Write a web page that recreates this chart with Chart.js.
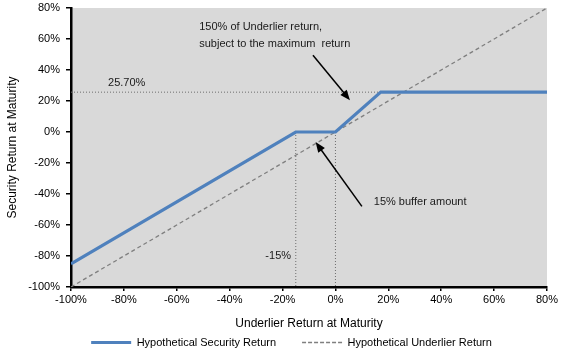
<!DOCTYPE html>
<html>
<head>
<meta charset="utf-8">
<script src="https://cdn.jsdelivr.net/npm/chart.js@4"></script>
<style>
  html, body { margin: 0; padding: 0; background: #fff; }
  #wrap { width: 565px; height: 354px; }
</style>
</head>
<body>
<div id="wrap"><canvas id="chart" width="565" height="354"></canvas></div>
<script>
// underlier return (x) and security return (y), in percent
const securityX = [-100, -15, 0, 17.13, 80];
const securityY = [-85, 0, 0, 25.7, 25.7];
const underlierX = [-100, 80];
const underlierY = [-100, 80];

const seriesNames = ["Hypothetical Security Return", "Hypothetical Underlier Return"];
const maxReturn = 25.7;
const bufferLevel = -15;
const xTicks = [-100, -80, -60, -40, -20, 0, 20, 40, 60, 80];
const yTicks = [-100, -80, -60, -40, -20, 0, 20, 40, 60, 80];

const FONT = "'Liberation Sans', Arial, sans-serif";

function toPoints(xs, ys) {
    return xs.map((x, i) => ({ x: x, y: ys[i] }));
}

function arrow(ctx, x1, y1, x2, y2) {
    const ang = Math.atan2(y2 - y1, x2 - x1);
    const len = 11, spread = 0.38;
    ctx.beginPath();
    ctx.moveTo(x1, y1);
    ctx.lineTo(x2 - Math.cos(ang) * 6, y2 - Math.sin(ang) * 6);
    ctx.stroke();
    ctx.beginPath();
    ctx.moveTo(x2, y2);
    ctx.lineTo(x2 - len * Math.cos(ang - spread), y2 - len * Math.sin(ang - spread));
    ctx.lineTo(x2 - len * Math.cos(ang + spread), y2 - len * Math.sin(ang + spread));
    ctx.closePath();
    ctx.fill();
}

// gray plot background + guide lines + notes
const notesPlugin = {
    id: "notes",
    afterLayout(chart) {
        // the legend sits a bit right of the canvas centre
        chart.legend.left += 18;
        chart.legend.right += 18;
    },
    beforeDraw(chart) {
        const { ctx, chartArea: a } = chart;
        ctx.save();
        ctx.fillStyle = "#d9d9d9";
        ctx.fillRect(a.left, a.top, a.right - a.left, a.bottom - a.top);
        ctx.restore();
    },
    beforeDatasetsDraw(chart) {
        const { ctx, scales: { x, y } } = chart;
        ctx.save();
        ctx.strokeStyle = "#6e6e6e";
        ctx.lineWidth = 1;
        ctx.setLineDash([1, 2]);
        // max return level
        ctx.beginPath();
        ctx.moveTo(x.left, y.getPixelForValue(maxReturn));
        ctx.lineTo(x.getPixelForValue(maxReturn / 1.5), y.getPixelForValue(maxReturn));
        ctx.stroke();
        // buffer verticals
        [bufferLevel, 0].forEach(v => {
            ctx.beginPath();
            ctx.moveTo(x.getPixelForValue(v), y.getPixelForValue(0));
            ctx.lineTo(x.getPixelForValue(v), y.bottom);
            ctx.stroke();
        });
        ctx.restore();
    },
    afterDatasetsDraw(chart) {
        const { ctx, scales: { x, y } } = chart;
        ctx.save();
        ctx.fillStyle = "#1a1a1a";
        ctx.font = "11px " + FONT;
        ctx.textBaseline = "middle";
        ctx.fillText(maxReturn.toFixed(2) + "%", x.getPixelForValue(-86), y.getPixelForValue(maxReturn) - 9);
        ctx.fillText(bufferLevel + "%", x.getPixelForValue(-26.5), y.getPixelForValue(-80));
        ctx.fillText("150% of Underlier return,", x.getPixelForValue(-51.5), y.getPixelForValue(67.5));
        ctx.fillText("subject to the maximum  return", x.getPixelForValue(-51.5), y.getPixelForValue(56.5));
        ctx.fillText("15% buffer amount", x.getPixelForValue(14.5), y.getPixelForValue(-45));
        ctx.strokeStyle = "#000";
        ctx.fillStyle = "#000";
        ctx.lineWidth = 1.5;
        arrow(ctx, x.getPixelForValue(-8.5), y.getPixelForValue(49.5), x.getPixelForValue(5.5), y.getPixelForValue(20.5));
        arrow(ctx, x.getPixelForValue(10), y.getPixelForValue(-48), x.getPixelForValue(-7.5), y.getPixelForValue(-6.5));
        ctx.restore();
    }
};

const ctx = document.getElementById("chart").getContext("2d");
const chart = new Chart(ctx, {
    type: "line",
    data: {
        datasets: [
            {
                label: seriesNames[0],
                data: toPoints(securityX, securityY),
                borderColor: "#4f81bd",
                backgroundColor: "#4f81bd",
                borderWidth: 3.2,
                pointRadius: 0,
                tension: 0,
                order: 1
            },
            {
                label: seriesNames[1],
                data: toPoints(underlierX, underlierY),
                borderColor: "#7f7f7f",
                backgroundColor: "#7f7f7f",
                borderWidth: 1.3,
                borderDash: [4, 3],
                pointRadius: 0,
                order: 2
            }
        ]
    },
    options: {
        responsive: false,
        animation: false,
        layout: { padding: { top: 8, right: 18, left: 0, bottom: -4 } },
        scales: {
            x: {
                type: "linear",
                min: -100,
                max: 80,
                afterBuildTicks: (s) => { s.ticks = xTicks.map(v => ({ value: v })); },
                afterFit: (s) => { s.height = 24; },
                ticks: {
                    callback: (v) => v + "%",
                    color: "#000",
                    font: { family: FONT, size: 11 },
                    padding: 2,
                    maxRotation: 0
                },
                grid: { drawOnChartArea: false, color: "#000", tickLength: 4, lineWidth: 1.5 },
                border: { color: "#000", width: 2.5 },
                title: {
                    display: true,
                    text: "Underlier Return at Maturity",
                    color: "#000",
                    font: { family: FONT, size: 12 },
                    padding: { top: 0, bottom: -20 }
                }
            },
            y: {
                min: -100,
                max: 80,
                afterBuildTicks: (s) => { s.ticks = yTicks.map(v => ({ value: v })); },
                afterFit: (s) => { s.width = 71; s.paddingTop = 0; },
                ticks: {
                    callback: (v) => v + "%",
                    color: "#000",
                    font: { family: FONT, size: 11 },
                    padding: 6
                },
                grid: { drawOnChartArea: false, color: "#000", tickLength: 5, lineWidth: 1.5 },
                border: { color: "#000", width: 2.5 },
                title: {
                    display: true,
                    text: "Security Return at Maturity",
                    color: "#000",
                    font: { family: FONT, size: 12 },
                    padding: { top: 5, bottom: 0 }
                }
            }
        },
        plugins: {
            legend: {
                position: "bottom",
                labels: {
                    usePointStyle: true,
                    pointStyle: "line",
                    pointStyleWidth: 40,
                    boxWidth: 40,
                    boxHeight: 6,
                    color: "#000",
                    font: { family: FONT, size: 11 },
                    padding: 26,
                    generateLabels: (c) => Chart.defaults.plugins.legend.labels.generateLabels(c).map(l => {
                        const ds = c.data.datasets[l.datasetIndex];
                        l.pointStyle = "line";
                        l.lineDash = ds.borderDash ? [4, 2] : [];
                        l.lineWidth = ds.borderWidth;
                        l.strokeStyle = ds.borderColor;
                        return l;
                    })
                }
            },
            tooltip: { enabled: false }
        }
    },
    plugins: [notesPlugin]
});
</script>
</body>
</html>
